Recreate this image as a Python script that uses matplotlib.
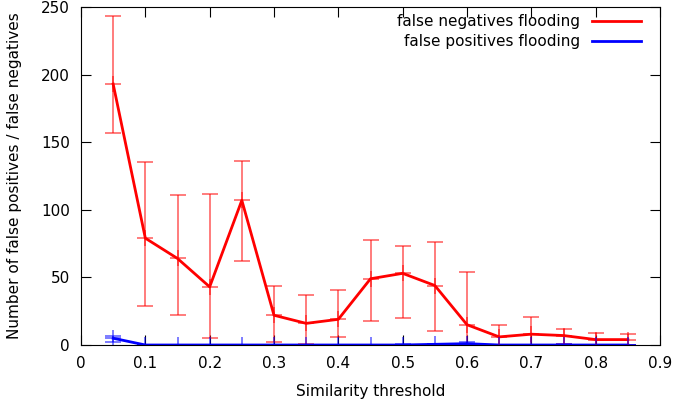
import matplotlib
matplotlib.use('Agg')
import matplotlib.pyplot as plt

# similarity thresholds
thresholds = [0.05, 0.1, 0.15, 0.2, 0.25, 0.3, 0.35, 0.4, 0.45,
              0.5, 0.55, 0.6, 0.65, 0.7, 0.75, 0.8, 0.85]

# false negatives flooding (mean, low, high)
fn_mean = [193, 79, 64, 43, 107, 22, 16, 19, 49, 53, 44, 15, 6, 8, 7, 4, 4]
fn_low = [157, 29, 22, 5, 62, 2, 1, 6, 18, 20, 10, 0, 0, 0, 1, 0, 0]
fn_high = [243, 135, 111, 112, 136, 44, 37, 41, 78, 73, 76, 54, 15, 21, 12, 9, 8]

# false positives flooding (mean, low, high)
fp_mean = [5, 0, 0, 0, 0, 0, 0, 0, 0, 0, 0.5, 1, 0, 0, 0, 0, 0]
fp_low = [2, 0, 0, 0, 0, 0, 0, 0, 0, 0, 0, 0, 0, 0, 0, 0, 0]
fp_high = [7, 0, 0, 0, 0, 0, 0, 0, 0, 1, 1, 2, 0, 0, 1, 0, 0]

fig = plt.figure(figsize=(6.73, 4.07), dpi=100)
ax = fig.add_axes([81 / 673, 62 / 407, 579 / 673, 338 / 407])


def draw_series(x, mean, low, high, color, label):
    yerr = [[m - l for m, l in zip(mean, low)], [h - m for m, h in zip(mean, high)]]
    # error bars and point markers in a lighter tone, like gnuplot's yerrorlines
    ax.errorbar(x, mean, yerr=yerr, fmt='+', color=color, ms=12, mew=1.2,
                elinewidth=1.2, capsize=6, capthick=1.2, alpha=0.6)
    ax.plot(x, mean, color=color, lw=2, label=label)


draw_series(thresholds, fn_mean, fn_low, fn_high, '#ff0000', 'false negatives flooding')
draw_series(thresholds, fp_mean, fp_low, fp_high, '#0000ff', 'false positives flooding')

ax.set_xlim(0, 0.9)
ax.set_ylim(0, 250)
ax.set_xticks([0, 0.1, 0.2, 0.3, 0.4, 0.5, 0.6, 0.7, 0.8, 0.9])
ax.set_xticklabels(['0', '0.1', '0.2', '0.3', '0.4', '0.5', '0.6', '0.7', '0.8', '0.9'])
ax.set_yticks([0, 50, 100, 150, 200, 250])
ax.tick_params(direction='in', top=True, right=True, length=7, labelsize=11, pad=8)
ax.set_xlabel('Similarity threshold', fontsize=11, labelpad=9)
ax.set_ylabel('Number of false positives / false negatives', fontsize=11, labelpad=14)

handles, labels = ax.get_legend_handles_labels()
ax.legend(handles, labels, loc='upper right', bbox_to_anchor=(0.9775, 0.997),
          frameon=False, markerfirst=False, fontsize=11, handlelength=3.2,
          labelspacing=0.35, borderaxespad=0, handletextpad=0.8)

fig.savefig('out.png', dpi=100)
